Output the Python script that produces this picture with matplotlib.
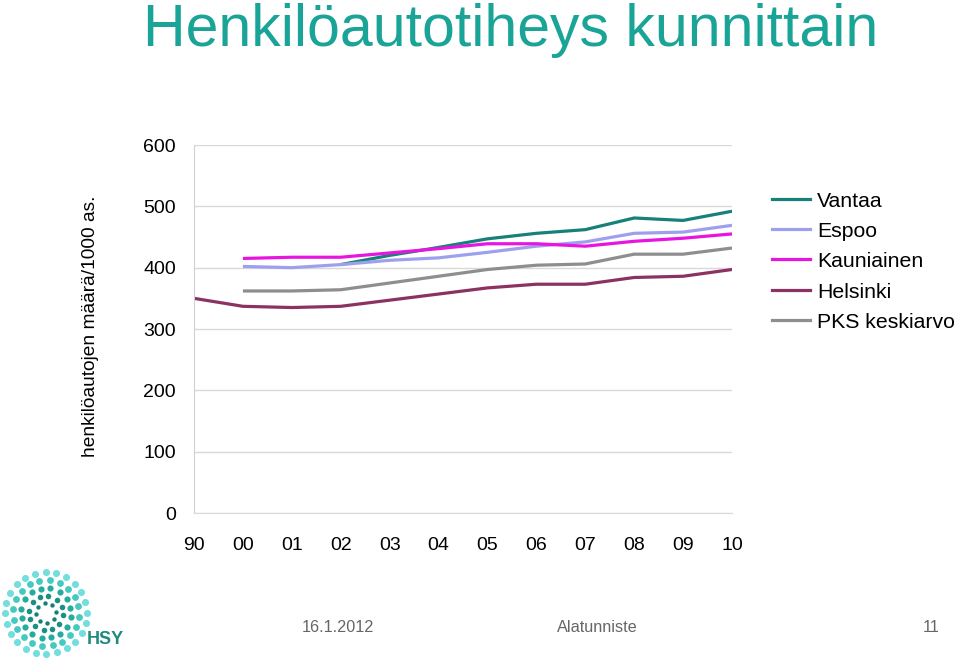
import numpy as np
import matplotlib
matplotlib.use("Agg")
import matplotlib.pyplot as plt
from matplotlib.lines import Line2D

years = ["90", "00", "01", "02", "03", "04", "05", "06", "07", "08", "09", "10"]
nan = np.nan
vantaa = [nan, nan, nan, 405, 420, 433, 447, 456, 462, 481, 477, 492]
espoo = [nan, 402, 400, 405, 412, 416, 425, 435, 442, 456, 458, 469]
kauniainen = [nan, 415, 417, 417, 424, 431, 439, 439, 435, 443, 448, 455]
helsinki = [350, 337, 335, 337, 347, 357, 367, 373, 373, 384, 386, 397]
pks = [nan, 362, 362, 364, 375, 386, 397, 404, 406, 422, 422, 432]

series = [
    ("Vantaa", vantaa, "#17807a"),
    ("Espoo", espoo, "#9ea0ee"),
    ("Kauniainen", kauniainen, "#e815e0"),
    ("Helsinki", helsinki, "#8c3263"),
    ("PKS keskiarvo", pks, "#8e8e8e"),
]

W, H = 960, 661
fig = plt.figure(figsize=(W / 100, H / 100), dpi=100)
fig.patch.set_facecolor("white")
FONT = "Liberation Sans"


def fx(px):
    return px / W


def fy(py):
    return 1 - py / H


left, right, top, bottom = 194, 732, 145, 513
ax = fig.add_axes([fx(left), fy(bottom), fx(right - left), fy(top) - fy(bottom)])
x = np.arange(len(years))
for name, vals, col in series:
    ax.plot(x, vals, color=col, lw=2.3, label=name, solid_capstyle="butt")

ax.set_xlim(0, len(years) - 1)
ax.set_ylim(0, 600)
ax.set_yticks(range(0, 601, 100))
ax.set_xticks(x)
ax.set_xticklabels(years)
ax.grid(axis="y", color="#d9d9d9", lw=1)
ax.set_axisbelow(True)
for s in ["top", "right"]:
    ax.spines[s].set_visible(False)
ax.spines["left"].set_color("#d0d0d0")
ax.spines["bottom"].set_color("#d9d9d9")
ax.tick_params(length=0, labelsize=14, colors="black")
ax.tick_params(axis="y", pad=13)
ax.tick_params(axis="x", pad=17.5)
for lab in ax.get_xticklabels() + ax.get_yticklabels():
    lab.set_fontfamily(FONT)

fig.text(fx(91), fy(326), "henkilöautojen määrä/1000 as.", rotation=90,
         ha="center", va="center", fontsize=13.8, family=FONT)

# legend (drawn manually to match positions)
leg_y = [199, 229, 259, 290, 320]
for (name, _, col), yy in zip(series, leg_y):
    fig.add_artist(Line2D([fx(772), fx(810)], [fy(yy), fy(yy)], color=col, lw=2.3,
                          transform=fig.transFigure))
    fig.text(fx(817), fy(yy), name, ha="left", va="center_baseline", fontsize=15.3,
             family=FONT)

# title
fig.text(fx(143), fy(46), "Henkilöautotiheys kunnittain", ha="left", va="baseline",
         fontsize=42.5, color="#19a497", family=FONT)

# footer
fig.text(fx(302), fy(632), "16.1.2012", ha="left", va="baseline", fontsize=11.7,
         color="#666666", family=FONT)
fig.text(fx(557), fy(632), "Alatunniste", ha="left", va="baseline", fontsize=11.7,
         color="#666666", family=FONT)
fig.text(fx(940), fy(632), "11", ha="right", va="baseline", fontsize=11.7,
         color="#666666", family=FONT)

# logo (decorative)
lax = fig.add_axes([fx(0), fy(661), fx(130), fy(565) - fy(661)])
lax.set_xlim(0, 130)
lax.set_ylim(96, 0)
lax.axis("off")
cx, cy = 46, 48
rings = [(41, 24, "#72dedd", 26), (33, 20, "#45c9c1", 24),
         (25, 16, "#25ac9f", 20), (17, 12, "#1a9085", 16), (10, 8, "#197f76", 10)]
for r, n, col, sz in rings:
    ang = np.linspace(0, 2 * np.pi, n, endpoint=False) + r * 0.07
    lax.scatter(cx + r * np.cos(ang), cy + r * np.sin(ang), s=sz,
                color=col, marker="o", lw=0)
lax.text(87, 75, "HSY", fontsize=13, fontweight="bold", color="#1f8a80",
         family=FONT, va="center", ha="left")

fig.savefig("out.png", dpi=100)
